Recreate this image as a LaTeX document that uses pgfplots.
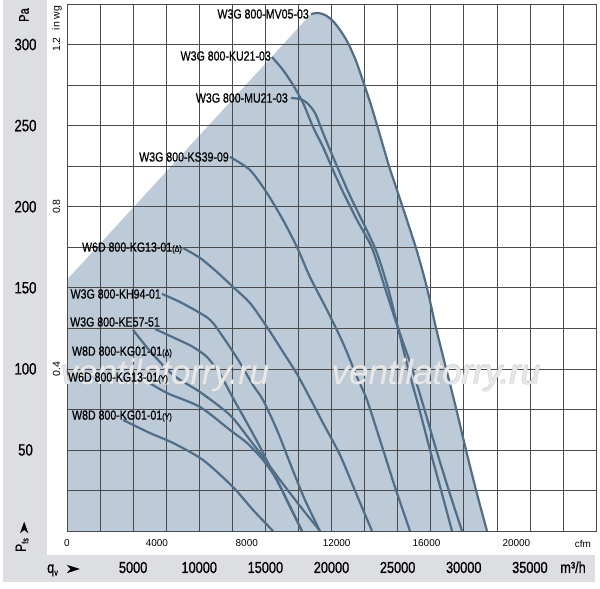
\documentclass[border=0pt]{standalone}
\usepackage{fontspec}
\setmainfont{Liberation Sans}
\newfontfamily\condf[FakeStretch=0.8,FakeBold=0.7]{Liberation Sans}
\usepackage{pgfplots}
\pgfplotsset{compat=1.18}
\definecolor{shadec}{RGB}{189,202,215}
\definecolor{curvec}{RGB}{80,110,136}
\definecolor{bandc}{RGB}{221,222,225}
\definecolor{gridc}{RGB}{75,75,75}
\newcommand\lbl{\condf\fontsize{13.3}{14}\selectfont}
\newcommand\sm[1]{{\fontsize{9}{9}\selectfont(#1)}}
\newcommand\wm[2]{%
  \foreach \dx/\dy in {-0.5/0,0.5/0,0/-0.5,0/0.5}{\node[text=gray!40,font=\itshape\fontsize{35}{35}\selectfont,inner sep=0] at (#1+\dx,#2+\dy) {ventilatorry.ru};}
  \node[text=white,text opacity=0.55,font=\itshape\fontsize{35}{35}\selectfont,inner sep=0] at (#1,#2) {ventilatorry.ru};}
\pgfplotsset{
 base/.style={at={(67bp,58bp)}, anchor=south west, scale only axis, width=529bp, height=527bp,
   xmin=0, xmax=40000, ymin=0, ymax=325, scaled x ticks=false, scaled y ticks=false},
 fc/.style={curvec, line width=2.2bp, smooth, tension=0.45, no markers},
}
\begin{document}
\begin{tikzpicture}[x=1bp,y=1bp]
\fill[white] (0,0) rectangle (600,589);
\fill[bandc] (3,589) rectangle (47,34);
\fill[bandc] (3,34) rectangle (595,7);
% shaded operating range (below the grid)
\begin{axis}[base, hide axis]
\addplot[fill=shadec, draw=none, sharp plot] coordinates {
(0,0)(0,155)(18449,318.8)(18978,319.5)(19507,318.2)(20037,315.1)(20642,309.0)(21246,301.0)(21851,289.9)(22456,275.7)(22986,262.7)(23439,250.4)(24346,225.1)(24951,210.3)(26388,174.5)(27219,149.9)(27900,125.2)(28656,100.5)(29412,75.9)(30168,50.0)(30924,25.3)(31756,0)} -- cycle;
\end{axis}
\begin{axis}[base,
 xtick={0,2500,...,40000}, ytick={0,25,...,325},
 xticklabels={,,5000,,10000,,15000,,20000,,25000,,30000,,35000,,},
 yticklabels={,,50,,100,,150,,200,,250,,300,},
 grid=major, major grid style={draw=gridc, line width=0.6bp},
 axis line style={draw=gridc, line width=0.7bp},
 major tick length=0pt,
 xticklabel style={anchor=center, yshift=-36.5bp, font=\condf\fontsize{16}{16}\selectfont},
 yticklabel style={anchor=center, xshift=-41.5bp, font=\condf\fontsize{16.5}{16.5}\selectfont},
]
% W3G 800-MV05-03
\addplot[fc] coordinates {(18449,318.8)(18978,319.5)(19507,318.2)(20037,315.1)(20642,309.0)(21246,301.0)(21851,289.9)(22456,275.7)(22986,262.7)(23439,250.4)(24346,225.1)(24951,210.3)(26388,174.5)(27219,149.9)(27900,125.2)(28656,100.5)(29412,75.9)(30168,50.0)(30924,25.3)(31756,0)};
% W3G 800-KU21-03
\addplot[fc] coordinates {(15500,292.3)(16332,284.3)(17088,275.1)(17844,264.0)(18600,249.2)(19356,236.8)(20112,222.6)(20793,210.3)(21927,191.8)(23061,174.5)(24044,149.9)(25027,125.2)(26085,100.5)(26993,75.9)(27900,50.6)(28883,24.7)(29866,0)};
% W3G 800-MU21-03
\addplot[fc] coordinates {(16937,267.0)(17617,266.4)(18146,264.0)(18751,257.8)(19356,245.5)(20112,230.7)(20868,216.5)(21473,205.4)(23288,174.5)(24271,149.9)(25027,125.2)(25783,100.5)(26615,75.9)(27446,50.0)(28278,25.3)(29110,0)};
% W3G 800-KS39-09
\addplot[fc] coordinates {(12324,230.7)(13837,222.6)(15122,208.4)(16332,191.8)(17390,175.1)(18373,156.6)(19659,136.3)(20868,115.9)(21927,95.0)(22683,80.8)(23666,56.1)(24800,27.1)(25934,0)};
% W6D 800-KG13-01 (Delta)
\addplot[fc] coordinates {(8771,174.5)(10056,168.4)(11342,159.7)(12551,150.5)(13837,140.6)(15122,125.8)(16332,110.4)(17390,96.8)(18373,82.0)(19356,66.6)(20642,46.9)(21851,23.4)(23061,0)};
% W3G 800-KH94-01
\addplot[fc] coordinates {(7183,146.2)(8544,141.2)(10056,134.4)(11039,128.3)(12854,106.7)(14063,90.0)(14820,80.8)(15878,62.3)(16861,41.9)(17995,19.1)(19129,0)};
% W3G 800-KE57-51
\addplot[fc] coordinates {(6654,124.6)(7788,120.3)(8771,116.6)(9527,113.5)(10585,107.3)(11568,96.8)(12551,82.0)(13610,66.6)(14593,51.8)(15576,35.8)(16634,19.1)(17768,0)};
% W8D 800-KG01-01 (Delta)
\addplot[fc] coordinates {(4990,124.0)(6276,111.0)(8015,96.2)(10056,85.7)(12324,71.5)(13837,56.1)(14820,45.6)(16105,31.5)(17617,15.4)(19129,0)};
% W6D 800-KG13-01 (Y)
\addplot[fc] coordinates {(5746,93.7)(7561,85.1)(10056,76.5)(12324,62.3)(13610,54.3)(14820,43.8)(15878,31.5)(16710,17.3)(17768,0)};
% W8D 800-KG01-01 (Y)
\addplot[fc] coordinates {(4234,68.5)(6276,60.4)(8015,54.3)(10283,43.8)(12551,27.1)(14063,13.0)(15576,0)};
\end{axis}
% cfm scale and in wg scale
\begin{axis}[base,
 axis line style={draw=none}, major tick length=0pt,
 xtick={0,6796,13592,20388,27184,33980},
 xticklabels={0,4000,8000,12000,16000,20000},
 ytick={100,200,300}, yticklabels={0.4,0.8,1.2},
 xticklabel style={anchor=center, yshift=-12bp, font=\fontsize{10}{10}\selectfont},
 yticklabel style={xshift=-10.5bp, anchor=center, rotate=90, font=\fontsize{10.5}{10.5}\selectfont},
]
\addplot[draw=none] coordinates {(0,0)};
\end{axis}
% watermark
\wm{165}{214}
\wm{436}{214}
% curve labels
\begin{scope}[every node/.style={anchor=east, inner sep=0, font=\lbl}]
\node at (309,575) {W3G 800-MV05-03};
\node at (271,533) {W3G 800-KU21-03};
\node at (288,491) {W3G 800-MU21-03};
\node at (229,432) {W3G 800-KS39-09};
\node at (182,341) {W6D 800-KG13-01\sm{Δ}};
\node at (161,295) {W3G 800-KH94-01};
\node at (160,267) {W3G 800-KE57-51};
\node at (172,237) {W8D 800-KG01-01\sm{Δ}};
\node at (168,211) {W6D 800-KG13-01\sm{Y}};
\node at (172,173) {W8D 800-KG01-01\sm{Y}};
\end{scope}
% axis titles
\node[rotate=90, inner sep=0, font=\condf\fontsize{14}{14}\selectfont] at (24,574) {Pa};
\node[rotate=90, inner sep=0, font=\fontsize{10.5}{10.5}\selectfont] at (57,571) {in wg};
\node[rotate=90, inner sep=0, font=\condf\fontsize{15}{15}\selectfont] at (22,44) {P\raisebox{-2.5bp}{\fontsize{9}{9}\selectfont fs}};
\fill[black] (24.2,67.3) -- (28.3,55.7) -- (24.2,59) -- (20,55.7) -- cycle;
\node[anchor=base west, inner sep=0, font=\condf\fontsize{16}{16}\selectfont] at (47,16) {q\raisebox{-2.5bp}{\fontsize{9}{9}\selectfont v}};
\fill[black] (80,20) -- (66.7,24.2) -- (70.5,20) -- (66.7,15.8) -- cycle;
\node[inner sep=0, font=\fontsize{10}{10}\selectfont] at (583,45) {cfm};
\node[anchor=base, inner sep=0, font=\condf\fontsize{16}{16}\selectfont] at (573,16) {m³/h};
\end{tikzpicture}
\end{document}
